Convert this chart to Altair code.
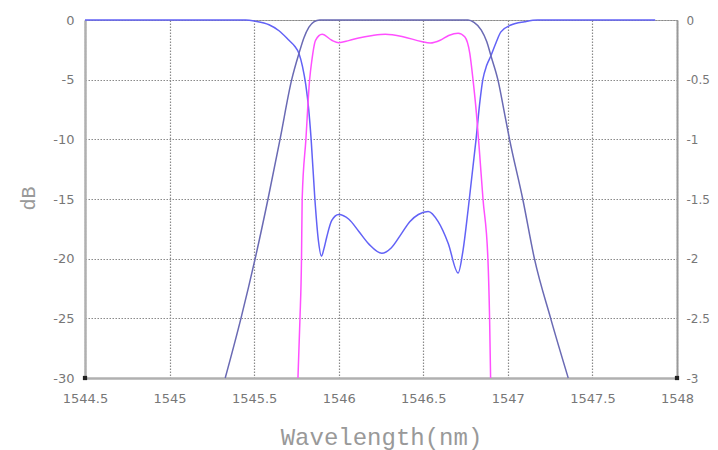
import altair as alt
import pandas as pd

x_ticks = [1544.5, 1545, 1545.5, 1546, 1546.5, 1547, 1547.5, 1548]
left_ticks = [0, -5, -10, -15, -20, -25, -30]
right_ticks = [0, -0.5, -1, -1.5, -2, -2.5, -3]

# Blue curve (0 outside the band, ripple inside)
wl_a = [1544.5, 1545.45, 1545.506, 1545.588, 1545.647, 1545.706, 1545.74, 1545.765, 1545.786,
        1545.805, 1545.822, 1545.837, 1545.859, 1545.88, 1545.898, 1545.912, 1545.929, 1545.959,
        1546.0, 1546.06, 1546.118, 1546.18, 1546.255, 1546.31, 1546.371, 1546.42,
        1546.471, 1546.529, 1546.588, 1546.647, 1546.706, 1546.735, 1546.765,
        1546.812, 1546.835, 1546.852, 1546.875, 1546.9, 1546.93, 1546.959, 1547.018,
        1547.1, 1547.176, 1547.871]
db_a = [0, 0, -0.1, -0.4, -0.9, -1.7, -2.2, -2.8, -3.9,
        -5.4, -7.4, -10, -15, -18.5, -19.8, -19.2, -18.2, -16.8,
        -16.3, -16.7, -17.7, -18.8, -19.55, -19.1, -17.9, -16.9,
        -16.3, -16.05, -16.9, -18.7, -21.2, -19.3, -15.9,
        -10, -6.8, -5.0, -3.8, -3.0, -1.9, -1.0, -0.42,
        -0.14, 0, 0]

# Slate-blue curve (passband)
wl_b = [1545.329, 1545.422, 1545.506, 1545.582, 1545.653, 1545.722, 1545.765, 1545.794,
        1545.824, 1545.853, 1545.888, 1546.765, 1546.8, 1546.843, 1546.875, 1546.902,
        1546.941, 1546.98, 1547.01, 1547.088, 1547.157, 1547.253, 1547.357]
db_b = [-30, -25, -20, -15, -10, -5, -2.8, -1.5,
        -0.6, -0.15, 0, 0, -0.2, -0.84, -1.8, -3.1,
        -5, -7.8, -10, -15, -20, -25, -30]

# Magenta curve
wl_m = [1545.759, 1545.771, 1545.78, 1545.784, 1545.806, 1545.828, 1545.841, 1545.863,
        1545.902, 1545.959, 1546.0, 1546.059, 1546.118, 1546.2, 1546.276, 1546.38,
        1546.488, 1546.541, 1546.6, 1546.65, 1546.706, 1546.745, 1546.775, 1546.794,
        1546.814, 1546.833, 1546.853, 1546.882, 1546.892, 1546.898]
db_m = [-30, -25, -20, -15, -10, -5, -3.4, -1.7,
        -1.2, -1.7, -1.9, -1.73, -1.5, -1.3, -1.2, -1.4,
        -1.8, -1.93, -1.7, -1.3, -1.1, -1.4, -2.8, -5,
        -7.8, -11.2, -15, -20, -25, -30]

corner_wl = [1544.5, 1548]
corner_db = [-30, -30]

rows = []
for name, wl, db in [("A", wl_a, db_a), ("B", wl_b, db_b), ("M", wl_m, db_m)]:
    for i, (w, d) in enumerate(zip(wl, db)):
        rows.append({"series": name, "wl": w, "db": d, "order": i})
df = pd.DataFrame(rows)

xscale = alt.Scale(domain=[1544.5, 1548], nice=False, zero=False)
yscale = alt.Scale(domain=[-30, 0], nice=False, zero=False)

xaxis = alt.Axis(
    values=x_ticks, labelExpr="datum.value + ''", labelFlush=False,
    grid=True, gridDash=[1.5, 1.5], gridColor="#8a8a8a", gridWidth=1.2,
    domainColor="#b0b0b0", domainWidth=2.5, ticks=False,
    labelFont="DejaVu Sans", labelFontSize=13, labelColor="#777", labelPadding=14,
    title="Wavelength(nm)", titleFont="Liberation Mono", titleFontSize=24,
    titleFontWeight="normal", titleColor="#999", titleBaseline="alphabetic",
    titleY=66,
)
yaxis = alt.Axis(
    values=left_ticks, labelExpr="datum.value + ''", labelFlush=False,
    grid=True, gridDash=[1.5, 1.5], gridColor="#8a8a8a", gridWidth=1.2,
    domainColor="#b0b0b0", domainWidth=2.5, ticks=False,
    labelFont="DejaVu Sans", labelFontSize=13, labelColor="#777", labelPadding=11,
    title="dB", titleFont="Liberation Mono", titleFontSize=20, titleFontWeight="normal",
    titleColor="#999", titleAngle=-90, titleX=-57, titleY=178,
    titleAlign="center", titleBaseline="middle",
)

lines = alt.Chart(df).mark_line(strokeWidth=1.5, interpolate="monotone").encode(
    x=alt.X("wl:Q", scale=xscale, axis=xaxis),
    y=alt.Y("db:Q", scale=yscale, axis=yaxis),
    color=alt.Color("series:N", scale=alt.Scale(domain=["A", "B", "M"],
                    range=["#6262f6", "#6a6ab4", "#ff4fff"]), legend=None),
    order="order:Q",
)

dots = alt.Chart(pd.DataFrame({"wl": corner_wl, "db": corner_db})).mark_square(
    size=18, color="#222", opacity=1).encode(
    x=alt.X("wl:Q", scale=xscale),
    y=alt.Y("db:Q", scale=yscale),
)

right = alt.Chart(pd.DataFrame({"r": right_ticks, "wl": [1548] * len(right_ticks)})).mark_point(
    opacity=0).encode(
    x=alt.X("wl:Q", scale=xscale),
    y=alt.Y("r:Q", scale=alt.Scale(domain=[-3, 0], nice=False, zero=False),
            axis=alt.Axis(orient="right", values=right_ticks, labelExpr="datum.value + ''",
                          labelFlush=False, grid=False, domainColor="#999", domainWidth=2,
                          ticks=False, labelFont="DejaVu Sans", labelFontSize=12,
                          labelColor="#777", labelPadding=9, title=None)),
)

chart = alt.layer(alt.layer(lines, dots), right).resolve_scale(y="independent").properties(
    width=592, height=358,
    padding={"left": 77, "top": 12, "right": 33, "bottom": 72},
    autosize=alt.AutoSizeParams(type="none"),
).configure_view(stroke="#aaa", strokeWidth=1)

chart.save("out.html", embed_options={"renderer": "svg", "actions": False})
